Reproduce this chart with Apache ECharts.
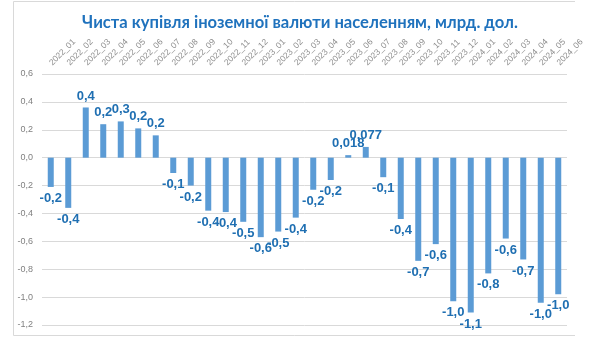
<!DOCTYPE html>
<html>
<head>
<meta charset="utf-8">
<script src="https://cdn.jsdelivr.net/npm/echarts@6/dist/echarts.min.js"></script>
<style>html,body{margin:0;padding:0;background:#fff;}#c{width:600px;height:340px;}</style>
</head>
<body>
<div id="c"></div>
<script>
const categories = ['2022_01','2022_02','2022_03','2022_04','2022_05','2022_06','2022_07','2022_08','2022_09','2022_10','2022_11','2022_12',
  '2023_01','2023_02','2023_03','2023_04','2023_05','2023_06','2023_07','2023_08','2023_09','2023_10','2023_11','2023_12',
  '2024_01','2024_02','2024_03','2024_04','2024_05','2024_06'];
const values = [-0.21,-0.36,0.36,0.24,0.26,0.21,0.16,-0.11,-0.2,-0.38,-0.39,-0.46,
  -0.57,-0.53,-0.43,-0.23,-0.16,0.018,0.077,-0.14,-0.44,-0.74,-0.62,-1.03,
  -1.11,-0.83,-0.58,-0.73,-1.04,-0.98];
const yTicks = [-1.2,-1.0,-0.8,-0.6,-0.4,-0.2,0.0,0.2,0.4,0.6];
const titleText = 'Чиста купівля іноземної валюти населенням, млрд. дол.';

function fmtLabel(v){
  const s = Math.abs(v) < 0.1 ? v.toFixed(3) : v.toFixed(1);
  return s.replace('.', ',');
}

const chart = echarts.init(document.getElementById('c'), null, {renderer:'canvas'});
chart.setOption({
  animation:false,
  backgroundColor:'#ffffff',
  title:{
    text:titleText, left:'center', top:9,
    textStyle:{fontFamily:'Lato, sans-serif', fontWeight:'bold', fontSize:16.6, color:'#1f72bd'}
  },
  graphic:[{
    type:'polyline', silent:true,
    shape:{points:[[575,1.5],[13.5,1.5],[13.5,335.5],[575,335.5]]},
    style:{stroke:'#d9d9d9', lineWidth:1, fill:null}
  }],
  grid:{left:42, right:33, top:74, bottom:15, containLabel:false},
  xAxis:{
    type:'category', position:'top', data:categories,
    axisLine:{show:false}, axisTick:{show:false},
    axisLabel:{rotate:45, fontSize:8.5, color:'#8c8c8c', margin:10, interval:0, fontFamily:'Liberation Sans, sans-serif'}
  },
  yAxis:{
    type:'value', min:yTicks[0], max:yTicks[yTicks.length-1], interval:0.2,
    axisLine:{show:false}, axisTick:{show:false},
    splitLine:{lineStyle:{color:'#d9d9d9', width:1}},
    axisLabel:{fontSize:9, color:'#808080', margin:9, fontFamily:'Liberation Sans, sans-serif',
      formatter:v=>(Math.round(v*10)/10).toFixed(1).replace('.',',').replace('-0,0','0,0')}
  },
  series:[{
    type:'bar', barWidth:6,
    itemStyle:{color:'#5b9bd5'},
    data:values.map(v=>({value:v, label:{position: v<0 ? 'bottom' : 'top'}})),
    label:{show:true, distance:5, fontSize:13, fontWeight:'bold', color:'#1f6fb2',
      fontFamily:'Liberation Sans, sans-serif',
      formatter:p=>fmtLabel(p.value)}
  }]
});
</script>
</body>
</html>
